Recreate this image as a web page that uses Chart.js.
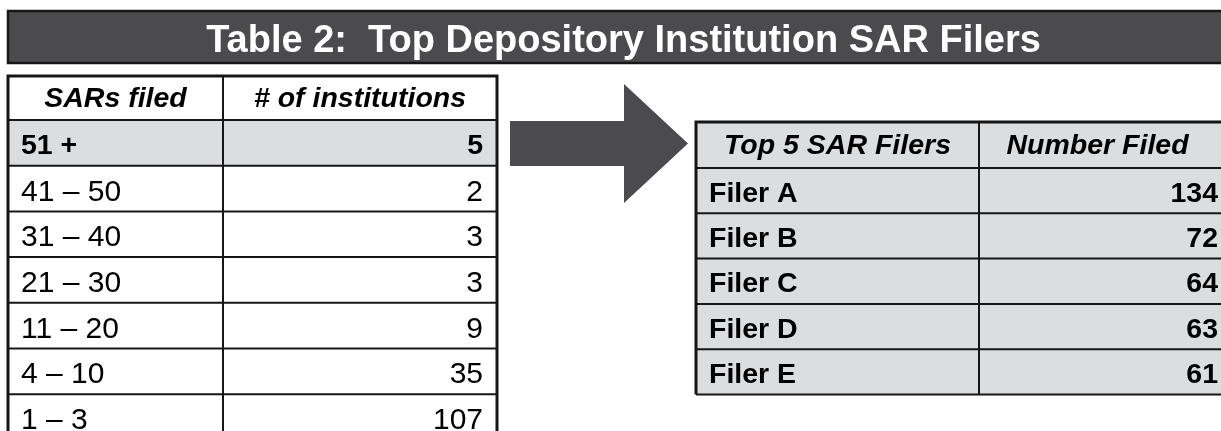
<!DOCTYPE html>
<html>
<head>
<meta charset="utf-8">
<title>Table 2: Top Depository Institution SAR Filers</title>
<script src="https://cdn.jsdelivr.net/npm/chart.js@4.4.0/dist/chart.umd.min.js"></script>
<style>
  html, body { margin: 0; padding: 0; background: #ffffff; }
  #sheet { display: block; }
</style>
</head>
<body>
<canvas id="sheet" width="1221" height="431"></canvas>
<script>
// Datos de las tablas
const titleText = 'Table 2:  Top Depository Institution SAR Filers';
const rangeHeaders = ['SARs filed', '# of institutions'];
const sarRanges = ['51 +', '41 – 50', '31 – 40', '21 – 30', '11 – 20', '4 – 10', '1 – 3'];
const institutionCounts = [5, 2, 3, 3, 9, 35, 107];
const filerHeaders = ['Top 5 SAR Filers', 'Number Filed'];
const topFilers = ['Filer A', 'Filer B', 'Filer C', 'Filer D', 'Filer E'];
const filedCounts = [134, 72, 64, 63, 61];

// Maquetacion (unidades de las escalas x / y)
const FONT = '"Liberation Sans", Arial, Helvetica, sans-serif';
const DARK = '#4b4b4d';
const LIGHT = '#dcdddf';
const LINE = '#161616';

const leftLayout = { x0: 8, xMid: 223, x1: 497, top: 76, headerH: 44, rowH: 45.7, highlight: [0], headerShift: 0 };
const rightLayout = { x0: 696, xMid: 979, x1: 1232, top: 122, headerH: 46, rowH: 45.3, highlight: 'all', headerShift: -8 };

function drawTable(ctx, xs, ys, L, headers, labels, values) {
  const px = v => xs.getPixelForValue(v);
  const py = v => ys.getPixelForValue(v);
  const rowsBottom = L.top + L.headerH + labels.length * L.rowH;

  // fondo de celdas
  ctx.fillStyle = L.highlight === 'all' ? LIGHT : '#ffffff';
  ctx.fillRect(px(L.x0), py(L.top), px(L.x1) - px(L.x0), py(rowsBottom) - py(L.top));
  if (Array.isArray(L.highlight)) {
    L.highlight.forEach(i => {
      const t = L.top + L.headerH + i * L.rowH;
      ctx.fillStyle = LIGHT;
      ctx.fillRect(px(L.x0), py(t), px(L.x1) - px(L.x0), py(t + L.rowH) - py(t));
    });
  }

  // lineas horizontales
  ctx.strokeStyle = LINE;
  ctx.lineWidth = 2;
  const hLines = [L.top + L.headerH];
  for (let i = 1; i <= labels.length; i++) hLines.push(L.top + L.headerH + i * L.rowH);
  hLines.forEach(v => {
    ctx.beginPath();
    ctx.moveTo(px(L.x0), py(v));
    ctx.lineTo(px(L.x1), py(v));
    ctx.stroke();
  });
  // lineas verticales
  ctx.beginPath();
  ctx.moveTo(px(L.xMid), py(L.top));
  ctx.lineTo(px(L.xMid), py(rowsBottom));
  ctx.stroke();
  ctx.lineWidth = 3;
  ctx.beginPath();
  ctx.moveTo(px(L.x0), py(rowsBottom));
  ctx.lineTo(px(L.x0), py(L.top));
  ctx.lineTo(px(L.x1), py(L.top));
  ctx.lineTo(px(L.x1), py(rowsBottom));
  ctx.stroke();

  // textos de cabecera
  ctx.fillStyle = '#000000';
  ctx.textBaseline = 'alphabetic';
  ctx.font = 'italic bold 28.5px ' + FONT;
  ctx.textAlign = 'center';
  const hBase = py(L.top + L.headerH / 2) + 9;
  ctx.fillText(headers[0], (px(L.x0) + px(L.xMid)) / 2, hBase);
  ctx.fillText(headers[1], (px(L.xMid) + px(L.x1)) / 2 + L.headerShift, hBase);

  // filas
  labels.forEach((lab, i) => {
    const bold = L.highlight === 'all' || (Array.isArray(L.highlight) && L.highlight.includes(i));
    const size = bold ? 28.5 : 30;
    ctx.font = (bold ? 'bold ' : '') + size + 'px ' + FONT;
    const base = py(L.top + L.headerH + (i + 0.5) * L.rowH) + Math.round(size * 0.358) + 1;
    ctx.textAlign = 'left';
    ctx.fillText(lab, px(L.x0) + 13, base);
    ctx.textAlign = 'right';
    ctx.fillText(String(values[i]), px(L.x1) - 14, base);
  });
}

const tableSheet = {
  id: 'tableSheet',
  afterDraw(chart) {
    const ctx = chart.ctx;
    const xs = chart.scales.x;
    const ys = chart.scales.y;
    const px = v => xs.getPixelForValue(v);
    const py = v => ys.getPixelForValue(v);
    ctx.save();

    // barra del titulo
    ctx.fillStyle = DARK;
    ctx.fillRect(px(8), py(11), px(1230) - px(8), py(63) - py(11));
    ctx.strokeStyle = LINE;
    ctx.lineWidth = 2.5;
    ctx.strokeRect(px(8), py(11), px(1230) - px(8), py(63) - py(11));

    ctx.fillStyle = '#ffffff';
    ctx.font = 'bold 38px ' + FONT;
    ctx.textAlign = 'center';
    ctx.textBaseline = 'alphabetic';
    ctx.fillText(titleText, px(623.5), py(52));

    // flecha
    ctx.fillStyle = DARK;
    ctx.beginPath();
    [[510, 121], [624, 121], [624, 84], [688, 143.5], [624, 203], [624, 166], [510, 166]]
      .forEach(([a, b], k) => k ? ctx.lineTo(px(a), py(b)) : ctx.moveTo(px(a), py(b)));
    ctx.closePath();
    ctx.fill();

    drawTable(ctx, xs, ys, leftLayout, rangeHeaders, sarRanges, institutionCounts);
    drawTable(ctx, xs, ys, rightLayout, filerHeaders, topFilers, filedCounts);
    ctx.restore();
  }
};

new Chart(document.getElementById('sheet'), {
  type: 'scatter',
  data: { datasets: [] },
  options: {
    responsive: false,
    animation: false,
    devicePixelRatio: 1,
    layout: { padding: 0 },
    plugins: { legend: { display: false }, tooltip: { enabled: false }, title: { display: false } },
    scales: {
      x: { type: 'linear', min: 0, max: 1221, display: false },
      y: { type: 'linear', min: 0, max: 431, reverse: true, display: false }
    }
  },
  plugins: [tableSheet]
});
</script>
</body>
</html>
